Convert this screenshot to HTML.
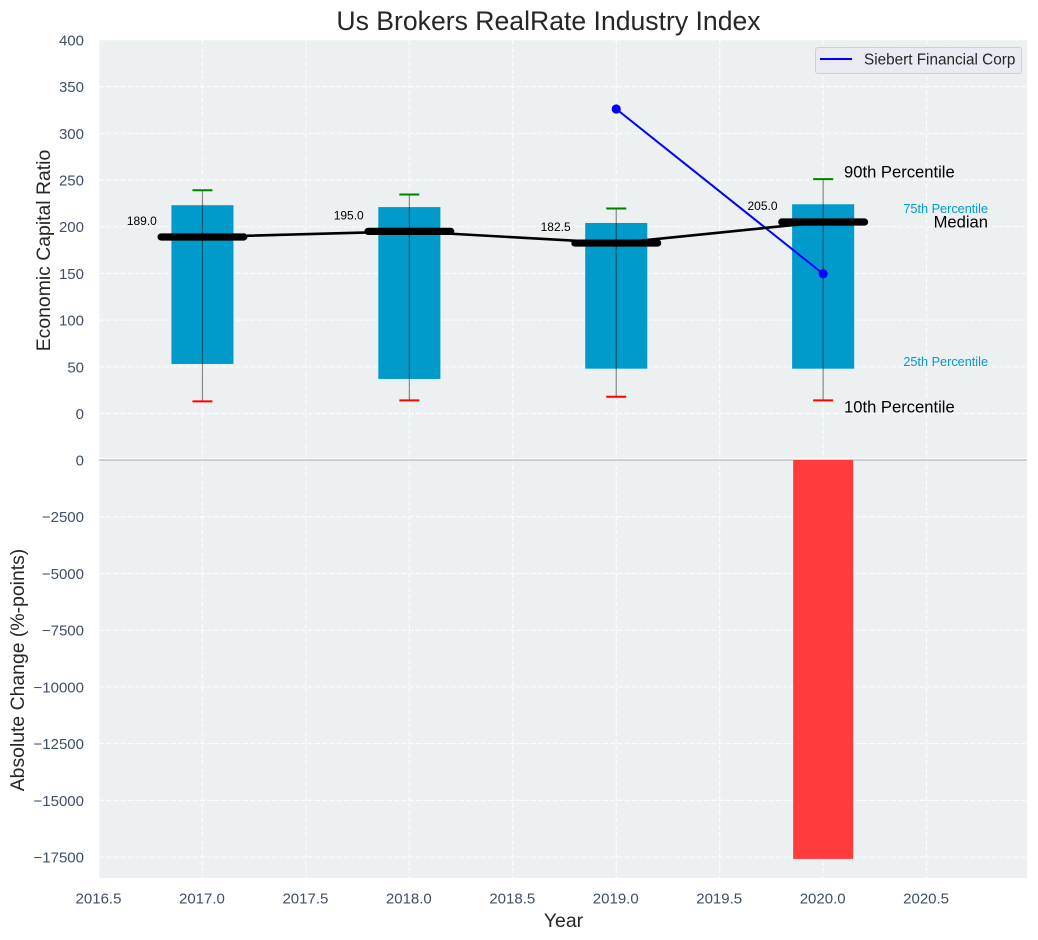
<!DOCTYPE html>
<html>
<head>
<meta charset="utf-8">
<title>Us Brokers RealRate Industry Index</title>
<style>
html,body{margin:0;padding:0;background:#fff;width:1038px;height:940px;overflow:hidden}
svg{display:block;font-family:"Liberation Sans",Arial,sans-serif}
</style>
</head>
<body>
<svg id="chart" width="1038" height="940" viewBox="0 0 1038 940" xmlns="http://www.w3.org/2000/svg"></svg>
<script>
const years = [2017, 2018, 2019, 2020];
const p90 = [239, 234.5, 219.5, 251];
const p75 = [223, 221, 204, 224];
const medians = [189, 195, 182.5, 205];
const p25 = [53, 37, 48, 48];
const p10 = [13, 14, 18, 14];
const companyYears = [2019, 2020];
const companyValues = [326, 149.5];
const changeYears = [2020];
const changeValues = [-17580];
const xTicks = [2016.5, 2017, 2017.5, 2018, 2018.5, 2019, 2019.5, 2020, 2020.5];
const topTicks = [0, 50, 100, 150, 200, 250, 300, 350, 400];
const bottomTicks = [0, -2500, -5000, -7500, -10000, -12500, -15000, -17500];

const svg = document.getElementById('chart');
const NS = 'http://www.w3.org/2000/svg';
const X = v => 99 + (v - 2016.5) * 206.9;
const YT = v => 413.5 - v * 0.934;
const YB = v => 460 - v * 0.02269;
const L = 99, R = 1027, T1 = 40, B1 = 460, B2 = 878;

function mk(tag, attrs, text) {
  const node = document.createElementNS(NS, tag);
  for (const k in attrs) node.setAttribute(k, attrs[k]);
  if (text !== undefined) node.textContent = text;
  svg.appendChild(node);
  return node;
}
let el;

el = mk('rect', {x: L, y: T1, width: R - L, height: B2 - T1, fill: '#ecf0f1'});



const gridStyle = {stroke: '#ffffff', 'stroke-opacity': 0.8, 'stroke-width': 1.2, 'stroke-dasharray': '5 2.2', fill: 'none'};
xTicks.forEach(t => {
  el = mk('line', {x1: X(t), x2: X(t), y1: T1, y2: B2, ...gridStyle});
  
  
  el = mk('text', {x: X(t) - 0.5, y: 899, 'text-anchor': 'middle', 'dominant-baseline': 'central', 'font-size': 15, fill: '#3f4f66'}, t.toFixed(1));
  
  
});
topTicks.forEach(t => {
  el = mk('line', {x1: L, x2: R, y1: YT(t), y2: YT(t), ...gridStyle});
  
  
  el = mk('text', {x: 84, y: YT(t) + 1, 'text-anchor': 'end', 'dominant-baseline': 'central', 'font-size': 15, fill: '#3f4f66'}, String(t));
  
  
});
bottomTicks.forEach(t => {
  if (t !== 0) {
    el = mk('line', {x1: L, x2: R, y1: YB(t), y2: YB(t), ...gridStyle});
    
    
  }
  el = mk('text', {x: 84, y: YB(t) + 1, 'text-anchor': 'end', 'dominant-baseline': 'central', 'font-size': 15, fill: '#3f4f66'}, String(t).replace('-', '\u2212'));
  
  
});

el = mk('line', {x1: L, x2: R, y1: 458.7, y2: 458.7, stroke: '#ffffff', 'stroke-width': 1.2});


el = mk('line', {x1: L, x2: R, y1: 460, y2: 460, stroke: '#b8b8b8', 'stroke-width': 1.3});



years.forEach((yr, i) => {
  el = mk('rect', {x: X(yr - 0.15), y: YT(p75[i]), width: X(yr + 0.15) - X(yr - 0.15), height: YT(p25[i]) - YT(p75[i]), fill: '#009bcb'});
  
  
  el = mk('line', {x1: X(yr), x2: X(yr), y1: YT(p90[i]), y2: YT(p10[i]), stroke: '#000', 'stroke-opacity': 0.45, 'stroke-width': 1.2});
  
  
  el = mk('line', {x1: X(yr) - 10, x2: X(yr) + 10, y1: YT(p90[i]), y2: YT(p90[i]), stroke: '#008000', 'stroke-width': 2});
  
  
  el = mk('line', {x1: X(yr) - 10, x2: X(yr) + 10, y1: YT(p10[i]), y2: YT(p10[i]), stroke: '#ff0000', 'stroke-width': 2});
  
  
});

changeYears.forEach((yr, i) => {
  el = mk('rect', {x: X(yr - 0.145), y: YB(0), width: X(yr + 0.145) - X(yr - 0.145), height: YB(changeValues[i]) - YB(0), fill: '#ff3232', 'fill-opacity': 0.95});
  
  
});

el = mk('polyline', {points: companyYears.map((y, i) => X(y) + ',' + YT(companyValues[i])).join(' '), fill: 'none', stroke: '#0000ff', 'stroke-width': 2});


companyYears.forEach((y, i) => {
  el = mk('circle', {cx: X(y), cy: YT(companyValues[i]), r: 4.6, fill: '#0000ff'});
  
  
});

el = mk('polyline', {points: years.map((y, i) => X(y) + ',' + YT(medians[i])).join(' '), fill: 'none', stroke: '#000', 'stroke-width': 2.6});



years.forEach((yr, i) => {
  el = mk('line', {x1: X(yr - 0.2), x2: X(yr + 0.2), y1: YT(medians[i]), y2: YT(medians[i]), stroke: '#000', 'stroke-width': 7.2, 'stroke-linecap': 'round'});
  
  
  el = mk('text', {x: X(yr - 0.293), y: YT(medians[i]) - 16, 'text-anchor': 'middle', 'dominant-baseline': 'central', 'font-size': 12, fill: '#000'}, medians[i].toFixed(1));
  
  
});

el = mk('text', {x: 844, y: 172, 'dominant-baseline': 'central', 'font-size': 16.6, fill: '#000'}, '90th Percentile');


el = mk('text', {x: 844, y: 407, 'dominant-baseline': 'central', 'font-size': 16.6, fill: '#000'}, '10th Percentile');


el = mk('text', {x: 988, y: 222, 'text-anchor': 'end', 'dominant-baseline': 'central', 'font-size': 16.6, fill: '#000'}, 'Median');


el = mk('text', {x: 988, y: 209, 'text-anchor': 'end', 'dominant-baseline': 'central', 'font-size': 12.7, fill: '#009bcb'}, '75th Percentile');


el = mk('text', {x: 988, y: 362, 'text-anchor': 'end', 'dominant-baseline': 'central', 'font-size': 12.7, fill: '#009bcb'}, '25th Percentile');



el = mk('rect', {x: 815.5, y: 47.5, width: 206, height: 26, rx: 2.5, fill: '#eaeaf2', stroke: '#d0d0d0', 'stroke-width': 1});


el = mk('line', {x1: 820, x2: 852, y1: 59, y2: 59, stroke: '#0000ff', 'stroke-width': 2});


el = mk('text', {x: 864, y: 60, 'dominant-baseline': 'central', 'font-size': 15.3, fill: '#262626'}, 'Siebert Financial Corp');



el = mk('text', {x: 548.5, y: 21, 'text-anchor': 'middle', 'dominant-baseline': 'central', 'font-size': 26.6, fill: '#262626'}, 'Us Brokers RealRate Industry Index');


el = mk('text', {x: 563.5, y: 921, 'text-anchor': 'middle', 'dominant-baseline': 'central', 'font-size': 19.4, fill: '#262626'}, 'Year');


el = mk('text', {transform: 'translate(44,250.5) rotate(-90)', 'text-anchor': 'middle', 'dominant-baseline': 'central', 'font-size': 19.4, fill: '#262626'}, 'Economic Capital Ratio');


el = mk('text', {transform: 'translate(18,670) rotate(-90)', 'text-anchor': 'middle', 'dominant-baseline': 'central', 'font-size': 19.4, fill: '#262626'}, 'Absolute Change (%-points)');


</script>
</body>
</html>
